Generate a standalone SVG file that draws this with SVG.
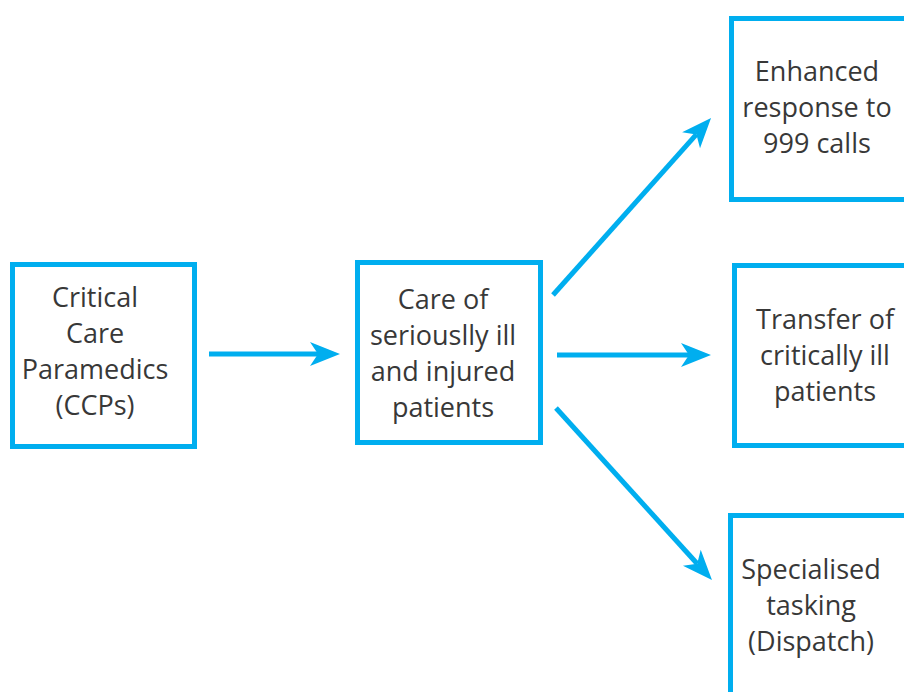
<svg xmlns="http://www.w3.org/2000/svg" width="904" height="692" viewBox="0 0 904 692">
<style>
.box{fill:#fff;stroke:#00AEEF;stroke-width:5}
.t{font-family:"Open Sans","Noto Sans","Liberation Sans",sans-serif;font-size:27px;fill:#383838;text-anchor:middle}
.c{stroke:#00AEEF;stroke-width:5;fill:none;marker-end:url(#ah)}
</style>
<defs>
<marker id="ah" markerUnits="userSpaceOnUse" viewBox="-10 -14 34 28" refX="0" refY="0" markerWidth="34" markerHeight="28" orient="auto">
<path d="M-8,-12 L22,0 L-8,12 L0,0 Z" fill="#00AEEF"/>
</marker>
</defs>
<rect width="904" height="692" fill="#fff"/>
<g id="connectors">
<line class="c" x1="209" y1="354" x2="318" y2="354"/>
<line class="c" x1="557" y1="355" x2="689" y2="355"/>
<line class="c" x1="553" y1="295" x2="696.4" y2="134.4"/>
<line class="c" x1="556" y1="408" x2="697.2" y2="563.7"/>
</g>
<g id="ccp">
<rect class="box" x="12.5" y="264.5" width="182" height="182"/>
<text class="t" x="95" y="307">Critical</text>
<text class="t" x="95" y="343">Care</text>
<text class="t" x="95" y="379">Paramedics</text>
<text class="t" x="95" y="415">(CCPs)</text>
</g>
<g id="care">
<rect class="box" x="357.5" y="262.5" width="183" height="180"/>
<text class="t" x="443" y="309">Care of</text>
<text class="t" x="443" y="345">seriouslly ill</text>
<text class="t" x="443" y="381">and injured</text>
<text class="t" x="443" y="417">patients</text>
</g>
<g id="enhanced">
<rect class="box" x="731.5" y="18.5" width="200" height="181"/>
<text class="t" x="817" y="81">Enhanced</text>
<text class="t" x="817" y="117">response to</text>
<text class="t" x="817" y="153">999 calls</text>
</g>
<g id="transfer">
<rect class="box" x="734.5" y="265.5" width="200" height="180"/>
<text class="t" x="825" y="329">Transfer of</text>
<text class="t" x="825" y="365">critically ill</text>
<text class="t" x="825" y="401">patients</text>
</g>
<g id="specialised">
<rect class="box" x="730.5" y="515.5" width="200" height="200"/>
<text class="t" x="811" y="579">Specialised</text>
<text class="t" x="811" y="615">tasking</text>
<text class="t" x="811" y="651">(Dispatch)</text>
</g>
</svg>
